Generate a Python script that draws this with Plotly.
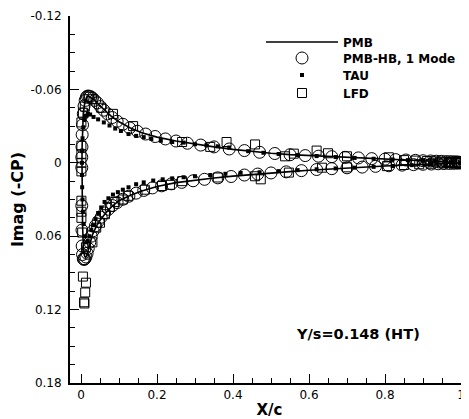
import plotly.graph_objects as go

# PMB (solid line): TE upper -> LE -> TE lower
pmb_x = [1.000, 0.95, 0.90, 0.85, 0.80, 0.75, 0.70, 0.65, 0.60, 0.55, 0.50, 0.45, 0.40, 0.35, 0.30,
         0.25, 0.20, 0.16, 0.13, 0.10, 0.08, 0.06, 0.045, 0.035, 0.025, 0.020, 0.015, 0.010, 0.006,
         0.004, 0.003, 0.0025, 0.0025, 0.003, 0.004, 0.006, 0.009, 0.012, 0.016, 0.020, 0.025, 0.030,
         0.040, 0.050, 0.065, 0.080, 0.10, 0.13, 0.16, 0.20, 0.25, 0.30, 0.35, 0.40, 0.45, 0.50, 0.55,
         0.60, 0.65, 0.70, 0.75, 0.80, 0.85, 0.90, 0.95, 1.00]
pmb_y = [-0.0003, -0.0010, -0.0016, -0.0022, -0.0029, -0.0036, -0.0043, -0.0050, -0.0058, -0.0067,
         -0.0078, -0.0092, -0.0110, -0.0130, -0.0152, -0.0178, -0.0210, -0.0245, -0.0285, -0.0335,
         -0.0380, -0.0435, -0.0480, -0.0515, -0.0540, -0.0545, -0.0535, -0.0495, -0.0400, -0.0280,
         -0.0150, -0.0030, 0.0100, 0.0300, 0.0500, 0.0680, 0.0760, 0.0775, 0.0755, 0.0700, 0.0640,
         0.0590, 0.0520, 0.0470, 0.0410, 0.0360, 0.0310, 0.0265, 0.0230, 0.0193, 0.0162, 0.0142,
         0.0124, 0.0109, 0.0095, 0.0083, 0.0072, 0.0061, 0.0051, 0.0042, 0.0034, 0.0026, 0.0019,
         0.0012, 0.0006, 0.0002]

# PMB-HB, 1 Mode (open circles)
hb_x = [1.000, 0.995, 0.990, 0.985, 0.978, 0.970, 0.960, 0.948, 0.935, 0.920, 0.900, 0.880, 0.855,
        0.828, 0.800, 0.765, 0.730, 0.695, 0.660, 0.625, 0.590, 0.550, 0.510, 0.470, 0.430, 0.390,
        0.350, 0.315, 0.280, 0.250, 0.222, 0.195, 0.170, 0.148, 0.128, 0.110, 0.095, 0.082, 0.070,
        0.060, 0.051, 0.043, 0.036, 0.030, 0.025, 0.021, 0.017, 0.014, 0.011, 0.008, 0.006, 0.004,
        0.003, 0.0025, 0.002, 0.002, 0.002, 0.0025, 0.003, 0.004, 0.006, 0.008, 0.010, 0.013, 0.016,
        0.019, 0.023, 0.027, 0.032, 0.038, 0.045, 0.053, 0.062, 0.072, 0.083, 0.095, 0.110, 0.126,
        0.145, 0.165, 0.188, 0.212, 0.238, 0.265, 0.295, 0.325, 0.360, 0.395, 0.430, 0.465, 0.500,
        0.540, 0.580, 0.620, 0.660, 0.700, 0.740, 0.775, 0.810, 0.845, 0.875, 0.900, 0.922, 0.940,
        0.955, 0.968, 0.978, 0.986, 0.993, 0.998]
hb_y = [-0.0003, -0.0005, -0.0006, -0.0007, -0.0008, -0.0009, -0.0010, -0.0012, -0.0013, -0.0015,
        -0.0017, -0.0020, -0.0023, -0.0026, -0.0030, -0.0034, -0.0040, -0.0045, -0.0050, -0.0054,
        -0.0059, -0.0066, -0.0076, -0.0086, -0.0100, -0.0113, -0.0130, -0.0145, -0.0160, -0.0178,
        -0.0195, -0.0215, -0.0235, -0.0258, -0.0285, -0.0315, -0.0340, -0.0370, -0.0400, -0.0430,
        -0.0460, -0.0490, -0.0510, -0.0530, -0.0540, -0.0545, -0.0545, -0.0535, -0.0510, -0.0465,
        -0.0400, -0.0310, -0.0230, -0.0130, -0.0045, 0.0040, 0.0350, 0.0550, 0.0680, 0.0750, 0.0785,
        0.0790, 0.0785, 0.0770, 0.0740, 0.0700, 0.0650, 0.0600, 0.0555, 0.0515, 0.0480, 0.0445,
        0.0410, 0.0380, 0.0350, 0.0325, 0.0298, 0.0273, 0.0248, 0.0226, 0.0205, 0.0188, 0.0172,
        0.0160, 0.0147, 0.0135, 0.0123, 0.0112, 0.0100, 0.0092, 0.0083, 0.0074, 0.0064, 0.0055,
        0.0048, 0.0041, 0.0035, 0.0029, 0.0024, 0.0019, 0.0015, 0.0012, 0.0010, 0.0008, 0.0006,
        0.0005, 0.0004, 0.0003, 0.0002, 0.0001]

# TAU (small filled squares)
tau_x = [1.0, 0.98, 0.96, 0.93, 0.90, 0.86, 0.82, 0.77, 0.72, 0.67, 0.62, 0.57, 0.52, 0.48, 0.44,
         0.39, 0.36, 0.33, 0.30, 0.27, 0.24, 0.21, 0.185, 0.165, 0.145, 0.125, 0.105, 0.09, 0.075,
         0.06, 0.045, 0.033, 0.024, 0.018, 0.013, 0.009, 0.006, 0.004, 0.003, 0.0025, 0.0025, 0.003,
         0.004, 0.005, 0.007, 0.010, 0.014, 0.018, 0.022, 0.027, 0.032, 0.038, 0.045, 0.053, 0.062,
         0.072, 0.084, 0.097, 0.110, 0.125, 0.145, 0.165, 0.19, 0.215, 0.24, 0.27, 0.30, 0.34, 0.38,
         0.42, 0.47, 0.52, 0.57, 0.62, 0.67, 0.72, 0.77, 0.82, 0.87, 0.92, 0.96, 1.0]
tau_y = [-0.0002, -0.0006, -0.0009, -0.0013, -0.0017, -0.0022, -0.0027, -0.0033, -0.0040, -0.0047,
         -0.0055, -0.0063, -0.0072, -0.0082, -0.0095, -0.0125, -0.0135, -0.0143, -0.0152, -0.0165,
         -0.0170, -0.0180, -0.0195, -0.0210, -0.0220, -0.0235, -0.0260, -0.0280, -0.0305, -0.0330,
         -0.0355, -0.0375, -0.0395, -0.0400, -0.0385, -0.0350, -0.0290, -0.0200, -0.0100, 0.0000,
         0.0100, 0.0200, 0.0300, 0.0400, 0.0500, 0.0600, 0.0650, 0.0640, 0.0600, 0.0550, 0.0510,
         0.0460, 0.0410, 0.0365, 0.0320, 0.0290, 0.0260, 0.0240, 0.0220, 0.0200, 0.0175, 0.0160,
         0.0145, 0.0135, 0.0127, 0.0118, 0.0110, 0.0100, 0.0090, 0.0082, 0.0077, 0.0068, 0.0060,
         0.0053, 0.0046, 0.0040, 0.0033, 0.0026, 0.0019, 0.0012, 0.0007, 0.0002]

# LFD (open squares)
lfd_x = [1.0, 0.985, 0.97, 0.95, 0.93, 0.91, 0.88, 0.85, 0.81, 0.70, 0.65, 0.62, 0.56, 0.537, 0.458,
         0.383, 0.34, 0.266, 0.137, 0.084, 0.053, 0.030, 0.020, 0.010, 0.005, 0.001, 0.001, 0.001,
         0.001, 0.001, 0.001, 0.001, 0.001, 0.003, 0.005, 0.013, 0.011, 0.008, 0.009, 0.013, 0.030,
         0.040, 0.050, 0.063, 0.076, 0.090, 0.110, 0.124, 0.168, 0.213, 0.234, 0.266, 0.360, 0.458,
         0.473, 0.547, 0.634, 0.70, 0.805, 0.85, 0.89, 0.92, 0.95, 0.97, 0.99]
lfd_y = [0.0000, -0.0005, -0.0008, -0.0010, -0.0012, -0.0015, -0.0018, -0.0022, -0.0045, -0.0053,
         -0.0078, -0.0100, -0.0075, -0.0053, -0.0150, -0.0170, -0.0130, -0.0170, -0.0300, -0.0400,
         -0.0450, -0.0520, -0.0540, -0.0460, -0.0410, -0.0330, -0.0140, -0.0070, 0.0000, 0.0070,
         0.0310, 0.0400, 0.0450, 0.0570, 0.0930, 0.0980, 0.1060, 0.1140, 0.1150, 0.0690, 0.0650,
         0.0530, 0.0490, 0.0420, 0.0360, 0.0320, 0.0300, 0.0270, 0.0220, 0.0190, 0.0180, 0.0150,
         0.0120, 0.0110, 0.0135, 0.0080, 0.0040, 0.0037, 0.0027, 0.0018, 0.0012, 0.0008, 0.0005,
         0.0003, 0.0001]

y_ticks = [-0.12, -0.06, 0, 0.06, 0.12, 0.18]
y_ticktext = ["-0.12", "-0.06", "0", "0.06", "0.12", "0.18"]
x_ticks = [0, 0.2, 0.4, 0.6, 0.8, 1]
x_ticktext = ["0", "0.2", "0.4", "0.6", "0.8", "1"]

FONT = "DejaVu Sans, Liberation Sans, Arial, sans-serif"

fig = go.Figure()
fig.add_trace(go.Scatter(x=pmb_x, y=pmb_y, mode="lines", name="<b>PMB</b>", legend="legend",
                         showlegend=True, line=dict(color="black", width=1.6)))
fig.add_trace(go.Scatter(x=hb_x, y=hb_y, mode="markers", name="<b>PMB-HB, 1 Mode</b>", legend="legend2",
                         showlegend=True,
                         marker=dict(symbol="circle-open", size=12, color="black",
                                     line=dict(width=1, color="black"))))
fig.add_trace(go.Scatter(x=tau_x, y=tau_y, mode="markers", name="<b>TAU</b>", legend="legend3",
                         showlegend=True, marker=dict(symbol="square", size=4, color="black")))
fig.add_trace(go.Scatter(x=lfd_x, y=lfd_y, mode="markers", name="<b>LFD</b>", legend="legend4",
                         showlegend=True,
                         marker=dict(symbol="square-open", size=9, color="black",
                                     line=dict(width=1, color="black"))))

fig.add_annotation(x=0.729, y=0.140, xref="x", yref="y", text="<b>Y/s=0.148 (HT)</b>",
                   showarrow=False, font=dict(size=14.5, color="black", family=FONT))

axis_common = dict(showgrid=False, zeroline=False, showline=True, linecolor="black", linewidth=2,
                   ticks="inside", ticklen=9, tickwidth=1, tickcolor="black",
                   tickfont=dict(size=12, color="black", family=FONT), mirror=False)

fig.update_xaxes(range=[-0.029, 1.021], tickvals=x_ticks, ticktext=x_ticktext,
                 title=dict(text="<b>X/c</b>", font=dict(size=15, color="black", family=FONT), standoff=8),
                 minor=dict(dtick=0.05, ticks="inside", ticklen=5, tickcolor="black", tickwidth=1),
                 **axis_common)
fig.update_yaxes(range=[0.18, -0.12], tickvals=y_ticks, ticktext=y_ticktext, ticklabelstandoff=4,
                 title=dict(text="<b>Imag (-CP)</b>", font=dict(size=16, color="black", family=FONT), standoff=4),
                 minor=dict(dtick=0.015, tick0=0, ticks="inside", ticklen=5, tickcolor="black", tickwidth=1),
                 **axis_common)

leg_common = dict(xanchor="left", yanchor="middle", bgcolor="rgba(0,0,0,0)", x=0.4787,
                  font=dict(size=12, color="black", family=FONT), itemwidth=72)
# page body has an 8px margin: figure sized so plot area lands at page x 70..469, y 16..383
fig.update_layout(width=461, height=411, margin=dict(l=62, r=0, t=8, b=36, autoexpand=False),
                  showlegend=True,
                  paper_bgcolor="white", plot_bgcolor="white",
                  font=dict(family=FONT, color="black"),
                  legend=dict(y=0.9292, **leg_common),
                  legend2=dict(y=0.8856, **leg_common),
                  legend3=dict(y=0.8392, **leg_common),
                  legend4=dict(y=0.7902, **leg_common))

fig.write_html("out.html")
